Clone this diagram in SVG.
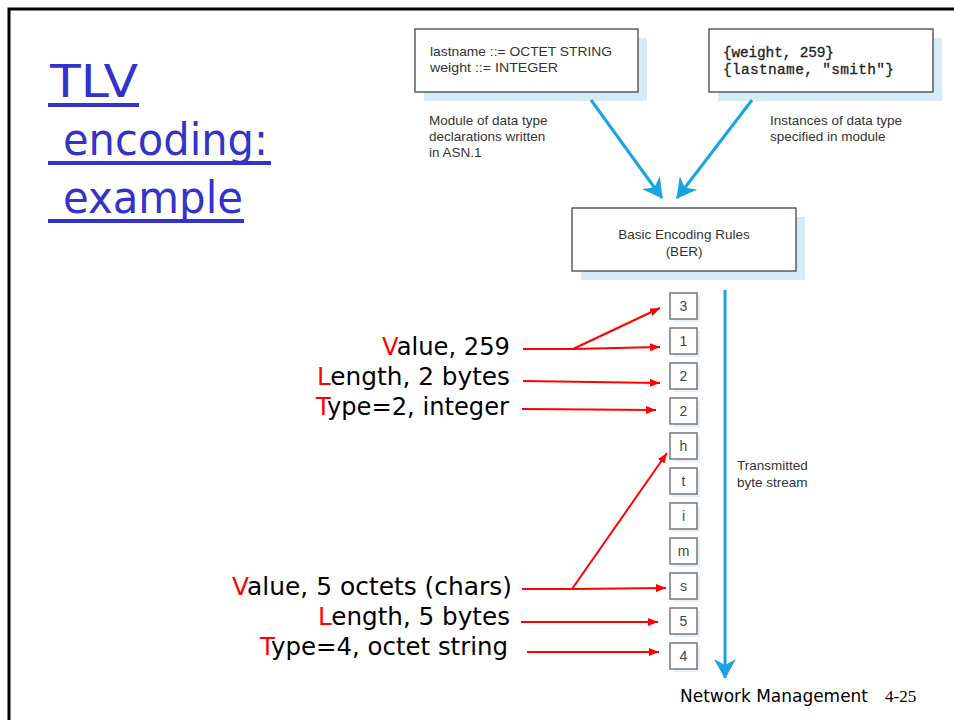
<svg xmlns="http://www.w3.org/2000/svg" width="954" height="720" viewBox="0 0 954 720">
<style>
.title{font-family:"DejaVu Sans",sans-serif;font-size:45px;fill:#3333CC}
.ul{stroke:#3333CC;stroke-width:4}
.lab{font-family:"DejaVu Sans",sans-serif;font-size:24px;fill:#000}
.red{fill:#FF0000}
.fig{font-family:"Liberation Sans",sans-serif;font-size:13.5px;fill:#333}
.mono{font-family:"Liberation Mono",monospace;font-size:14.5px;fill:#222;stroke:#222;stroke-width:0.3}
.box{fill:#fff;stroke:#444;stroke-width:1.3}
.shadow{fill:#d6ebf8}
.bbox{fill:#fff;stroke:#777;stroke-width:1.5}
.bshadow{fill:#e4f1fa}
.btxt{font-family:"Liberation Sans",sans-serif;font-size:14px;fill:#444;text-anchor:middle}
.blue{stroke:#1AA3E3;stroke-width:3;fill:none}
.rl{stroke:#FF0000;stroke-width:2;fill:none}
</style>
<defs>
<marker id="rarr" viewBox="0 0 10 8" refX="10" refY="4" markerWidth="10" markerHeight="8" markerUnits="userSpaceOnUse" orient="auto">
<path d="M0,0 L10,4 L0,8 z" fill="#FF0000"/>
</marker>
<marker id="barr" viewBox="0 0 20 22" refX="19" refY="11" markerWidth="20" markerHeight="22" markerUnits="userSpaceOnUse" orient="auto">
<path d="M0,0 L20,11 L0,22 L6,11 z" fill="#1AA3E3"/>
</marker>
</defs>
<rect x="0" y="0" width="954" height="720" fill="#fff"/>
<path d="M9,720 L9,9 L954,9" fill="none" stroke="#000" stroke-width="3"/>

<g id="title">
<text class="title" x="50" y="97" textLength="88" lengthAdjust="spacingAndGlyphs">TLV</text>
<line class="ul" x1="48" y1="105" x2="139" y2="105"/>
<text class="title" x="63" y="155" textLength="205" lengthAdjust="spacingAndGlyphs">encoding:</text>
<line class="ul" x1="48" y1="163" x2="271" y2="163"/>
<text class="title" x="63" y="213" textLength="180" lengthAdjust="spacingAndGlyphs">example</text>
<line class="ul" x1="48" y1="221" x2="244" y2="221"/>
</g>

<g id="module">
<rect class="shadow" x="424" y="38" width="223" height="63"/>
<rect class="box" x="415" y="29" width="223" height="63"/>
<text class="fig" x="430" y="56" textLength="182" lengthAdjust="spacingAndGlyphs">lastname ::= OCTET STRING</text>
<text class="fig" x="430" y="72" textLength="128" lengthAdjust="spacingAndGlyphs">weight ::= INTEGER</text>
<text class="fig" x="429" y="125">Module of data type</text>
<text class="fig" x="429" y="141">declarations written</text>
<text class="fig" x="429" y="157">in ASN.1</text>
</g>

<g id="instances">
<rect class="shadow" x="718" y="38" width="224" height="63"/>
<rect class="box" x="709" y="29" width="224" height="63"/>
<text class="mono" x="723" y="57" textLength="111">{weight, 259}</text>
<text class="mono" x="723" y="74" textLength="171">{lastname, "smith"}</text>
<text class="fig" x="770" y="125">Instances of data type</text>
<text class="fig" x="770" y="141">specified in module</text>
</g>

<g id="ber">
<rect class="shadow" x="581" y="217" width="224" height="63"/>
<rect class="box" x="572" y="208" width="224" height="63"/>
<text class="fig" x="684" y="239" text-anchor="middle">Basic Encoding Rules</text>
<text class="fig" x="684" y="256" text-anchor="middle">(BER)</text>
</g>

<g id="bytes">
<rect class="bshadow" x="673" y="296" width="27" height="26"/><rect class="bbox" x="670" y="293" width="27" height="26"/><text class="btxt" x="683.5" y="311">3</text>
<rect class="bshadow" x="673" y="331" width="27" height="26"/><rect class="bbox" x="670" y="328" width="27" height="26"/><text class="btxt" x="683.5" y="346">1</text>
<rect class="bshadow" x="673" y="366" width="27" height="26"/><rect class="bbox" x="670" y="363" width="27" height="26"/><text class="btxt" x="683.5" y="381">2</text>
<rect class="bshadow" x="673" y="401" width="27" height="26"/><rect class="bbox" x="670" y="398" width="27" height="26"/><text class="btxt" x="683.5" y="416">2</text>
<rect class="bshadow" x="673" y="436" width="27" height="26"/><rect class="bbox" x="670" y="433" width="27" height="26"/><text class="btxt" x="683.5" y="451">h</text>
<rect class="bshadow" x="673" y="471" width="27" height="26"/><rect class="bbox" x="670" y="468" width="27" height="26"/><text class="btxt" x="683.5" y="486">t</text>
<rect class="bshadow" x="673" y="506" width="27" height="26"/><rect class="bbox" x="670" y="503" width="27" height="26"/><text class="btxt" x="683.5" y="521">i</text>
<rect class="bshadow" x="673" y="541" width="27" height="26"/><rect class="bbox" x="670" y="538" width="27" height="26"/><text class="btxt" x="683.5" y="556">m</text>
<rect class="bshadow" x="673" y="576" width="27" height="26"/><rect class="bbox" x="670" y="573" width="27" height="26"/><text class="btxt" x="683.5" y="591">s</text>
<rect class="bshadow" x="673" y="611" width="27" height="26"/><rect class="bbox" x="670" y="608" width="27" height="26"/><text class="btxt" x="683.5" y="626">5</text>
<rect class="bshadow" x="673" y="646" width="27" height="26"/><rect class="bbox" x="670" y="643" width="27" height="26"/><text class="btxt" x="683.5" y="661">4</text>
</g>

<g id="stream-label">
<text class="fig" x="737" y="470">Transmitted</text>
<text class="fig" x="737" y="487">byte stream</text>
</g>

<g id="labels">
<text class="lab" x="382" y="355" textLength="128" lengthAdjust="spacingAndGlyphs"><tspan class="red">V</tspan>alue, 259</text>
<text class="lab" x="317" y="385" textLength="193" lengthAdjust="spacingAndGlyphs"><tspan class="red">L</tspan>ength, 2 bytes</text>
<text class="lab" x="316" y="415" textLength="193" lengthAdjust="spacingAndGlyphs"><tspan class="red">T</tspan>ype=2, integer</text>
<text class="lab" x="232" y="595" textLength="280" lengthAdjust="spacingAndGlyphs"><tspan class="red">V</tspan>alue, 5 octets (chars)</text>
<text class="lab" x="318" y="625" textLength="192" lengthAdjust="spacingAndGlyphs"><tspan class="red">L</tspan>ength, 5 bytes</text>
<text class="lab" x="260" y="655" textLength="248" lengthAdjust="spacingAndGlyphs"><tspan class="red">T</tspan>ype=4, octet string</text>
</g>

<g id="connectors">
<line class="blue" x1="591" y1="100" x2="662" y2="198" marker-end="url(#barr)"/>
<line class="blue" x1="752" y1="100" x2="677" y2="198" marker-end="url(#barr)"/>
<line class="blue" x1="725" y1="290" x2="725" y2="678" marker-end="url(#barr)"/>
<path class="rl" d="M523,349 L573,349"/>
<line class="rl" x1="573" y1="349" x2="660" y2="308" marker-end="url(#rarr)"/>
<line class="rl" x1="573" y1="349" x2="660" y2="347" marker-end="url(#rarr)"/>
<line class="rl" x1="523" y1="381" x2="660" y2="383" marker-end="url(#rarr)"/>
<line class="rl" x1="522" y1="409" x2="656" y2="410" marker-end="url(#rarr)"/>
<path class="rl" d="M522,589 L572,589"/>
<line class="rl" x1="572" y1="589" x2="667" y2="453" marker-end="url(#rarr)"/>
<line class="rl" x1="572" y1="589" x2="666" y2="588" marker-end="url(#rarr)"/>
<line class="rl" x1="521" y1="622" x2="658" y2="622" marker-end="url(#rarr)"/>
<line class="rl" x1="527" y1="652" x2="659" y2="652" marker-end="url(#rarr)"/>
</g>

<g id="footer">
<text x="680" y="702" font-family="DejaVu Sans, sans-serif" font-size="17" fill="#000" textLength="188" lengthAdjust="spacingAndGlyphs">Network Management</text>
<text x="885" y="702" font-family="Liberation Serif, serif" font-size="17" fill="#000">4-25</text>
</g>
</svg>
